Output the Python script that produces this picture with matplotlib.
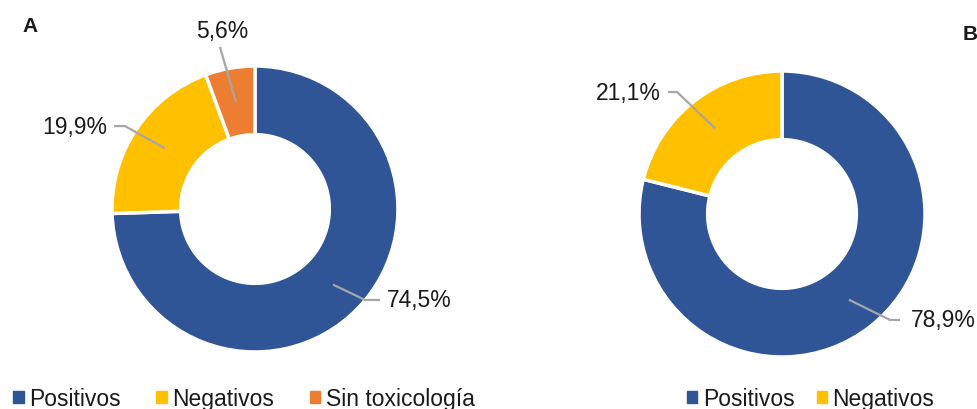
import numpy as np
import matplotlib.pyplot as plt
from matplotlib.patches import Patch

plt.rcParams['font.family'] = ['Liberation Sans', 'DejaVu Sans']

# data
cats_a = ['Positivos', 'Negativos', 'Sin toxicología']
vals_a = [74.5, 19.9, 5.6]
cats_b = ['Positivos', 'Negativos']
vals_b = [78.9, 21.1]

colors = ['#2F5597', '#FFC000', '#ED7D31']
line_col = '#A6A6A6'
txt_col = '#1A1A1A'
ring = 0.48

# label layout: (elbow, line end, text pos, ha) in data units
layout_a = [
    ((0.77, -0.636), (0.874, -0.636), (0.92, -0.636), 'left'),
    ((-0.909, 0.58), (-0.986, 0.58), (-1.03, 0.58), 'right'),
    (None, (-0.245, 1.133), (-0.23, 1.245), 'center'),
]
layout_b = [
    ((0.755, -0.741), (0.825, -0.741), (0.90, -0.741), 'left'),
    ((-0.734, 0.853), (-0.797, 0.853), (-0.846, 0.853), 'right'),
]


def fmt(v):
    return '{:.1f}%'.format(v).replace('.', ',')


def donut(ax, vals, layout):
    ax.pie(vals, colors=colors[:len(vals)], startangle=90, counterclock=False,
           radius=1, wedgeprops=dict(width=ring, edgecolor='white', linewidth=2.5))
    ax.set_xlim(-1, 1)
    ax.set_ylim(-1, 1)
    ax.set_aspect('equal')
    ax.axis('off')

    total = sum(vals)
    cum = np.cumsum([0] + list(vals))
    r = 1 - ring / 2
    for i, v in enumerate(vals):
        mid = 90 - (cum[i] + v / 2) / total * 360
        ax_ = r * np.cos(np.radians(mid))
        ay_ = r * np.sin(np.radians(mid))
        elbow, end, tpos, ha = layout[i]
        pts = [(ax_, ay_)] + ([elbow] if elbow else []) + [end]
        xs, ys = zip(*pts)
        ax.plot(xs, ys, color=line_col, lw=1.6, clip_on=False, solid_capstyle='butt')
        ax.text(tpos[0], tpos[1], fmt(v), ha=ha, va='center', fontsize=16.5,
                color=txt_col, clip_on=False)


fig = plt.figure(figsize=(9.78, 4.10), dpi=100)
ax1 = fig.add_axes([0.1145, 0.139, 0.2924, 0.6976])
ax2 = fig.add_axes([0.6534, 0.1268, 0.2924, 0.6976])

donut(ax1, vals_a, layout_a)
donut(ax2, vals_b, layout_b)

fig.text(22 / 978, 1 - 27 / 410, 'A', fontsize=15, fontweight='bold', va='center', color=txt_col)
fig.text(963 / 978, 1 - 35 / 410, 'B', fontsize=15, fontweight='bold', va='center', color=txt_col)

h_a = [Patch(color=c) for c in colors]
leg_kw = dict(loc='center', frameon=False, fontsize=16.5, handlelength=0.45, handleheight=0.45,
              handletextpad=0.25, borderpad=0, borderaxespad=0, labelcolor=txt_col)
fig.legend(h_a, cats_a, bbox_to_anchor=(0.2495, 0.026), ncol=3, columnspacing=1.55, **leg_kw)
fig.legend(h_a[:2], cats_b, bbox_to_anchor=(0.829, 0.026), ncol=2, columnspacing=0.95, **leg_kw)

fig.savefig('out.png', dpi=100, facecolor='white')
